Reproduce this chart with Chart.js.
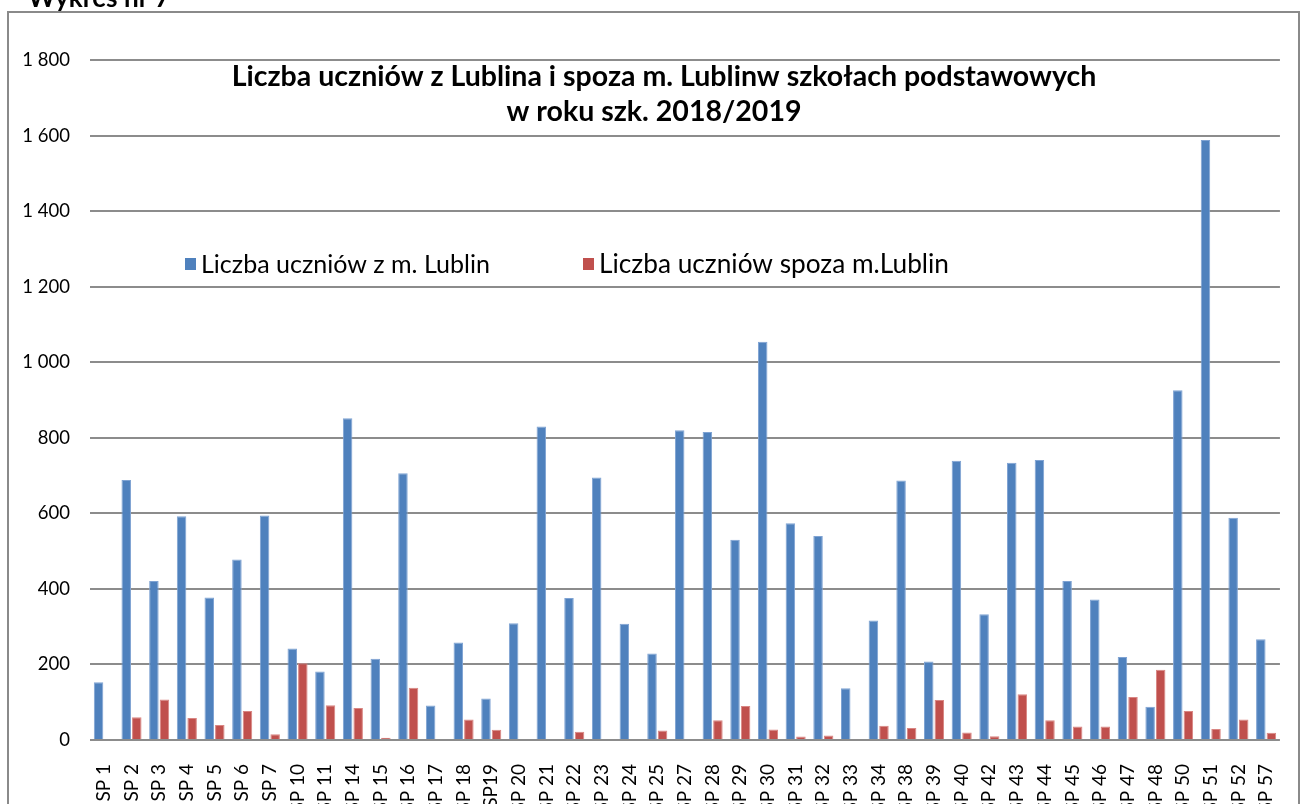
<!DOCTYPE html>
<html>
<head>
<meta charset="utf-8">
<script src="https://cdn.jsdelivr.net/npm/chart.js@4.4.1/dist/chart.umd.min.js"></script>
<style>
  html, body { margin: 0; padding: 0; background: #fff; }
  #wrap { width: 1305px; height: 804px; position: relative; }
</style>
</head>
<body>
<div id="wrap"><canvas id="chart"></canvas></div>
<script>
// Dane
const schools = ['SP 1', 'SP 2', 'SP 3', 'SP 4', 'SP 5', 'SP 6', 'SP 7', 'SP 10', 'SP 11', 'SP 14',
  'SP 15', 'SP 16', 'SP 17', 'SP 18', 'SP19', 'SP 20', 'SP 21', 'SP 22', 'SP 23', 'SP 24',
  'SP 25', 'SP 27', 'SP 28', 'SP 29', 'SP 30', 'SP 31', 'SP 32', 'SP 33', 'SP 34', 'SP 38',
  'SP 39', 'SP 40', 'SP 42', 'SP 43', 'SP 44', 'SP 45', 'SP 46', 'SP 47', 'SP 48', 'SP 50',
  'SP 51', 'SP 52', 'SP 57'];
const fromLublin = [153, 688, 421, 592, 377, 478, 594, 242, 181, 852,
  215, 706, 91, 258, 110, 309, 830, 376, 695, 308,
  229, 820, 815, 530, 1054, 574, 540, 137, 316, 687,
  208, 739, 333, 734, 741, 421, 372, 220, 88, 926,
  1588, 588, 267];
const outsideLublin = [0, 60, 107, 58, 40, 77, 15, 203, 92, 85,
  6, 138, 0, 54, 27, 0, 0, 22, 0, 0,
  25, 0, 52, 90, 28, 9, 12, 0, 38, 32,
  106, 20, 10, 121, 52, 36, 36, 114, 186, 77,
  29, 54, 19];
const yTicks = [0, 200, 400, 600, 800, 1000, 1200, 1400, 1600, 1800];

const seriesNames = ['Liczba uczniów z m. Lublin', 'Liczba uczniów spoza m.Lublin'];
const seriesColors = ['#4F81BD', '#C0504D'];
const titleLines = ['Liczba uczniów z Lublina i spoza m. Lublinw szkołach podstawowych', 'w roku szk. 2018/2019'];

const FONT = 'Lato, "Open Sans", sans-serif';

// dopasowanie rozmiaru czcionki do szerokości tekstu
function fitFont(ctx, text, weight, width) {
  ctx.font = weight + ' 20px ' + FONT;
  const size = 20 * width / ctx.measureText(text).width;
  ctx.font = weight + ' ' + size.toFixed(2) + 'px ' + FONT;
}

// Rysowanie ramki, tytułu i legendy
const decorPlugin = {
  id: 'decor',
  beforeDraw(chart) {
    const ctx = chart.ctx;
    ctx.save();
    ctx.fillStyle = '#fff';
    ctx.fillRect(0, 0, chart.width, chart.height);
    ctx.strokeStyle = '#8a8a8a';
    ctx.lineWidth = 2;
    ctx.strokeRect(8, 12, 1291, 810);
    ctx.fillStyle = '#000';
    ctx.textBaseline = 'alphabetic';
    fitFont(ctx, 'Wykres nr 7', 'bold', 142);
    ctx.fillText('Wykres nr 7', 28, 7);
    ctx.restore();
  },
  afterDraw(chart) {
    const ctx = chart.ctx;
    ctx.save();
    ctx.fillStyle = '#000';
    ctx.textAlign = 'center';
    ctx.textBaseline = 'middle';
    fitFont(ctx, titleLines[0], 'bold', 865);
    ctx.fillText(titleLines[0], 664, 77);
    ctx.fillText(titleLines[1], 654, 112);

    ctx.textAlign = 'left';
    const legX = [185, 583];
    const legW = [289, 350];
    chart.data.datasets.forEach((ds, i) => {
      ctx.fillStyle = ds.backgroundColor;
      ctx.fillRect(legX[i], 258, 11, 12);
      ctx.fillStyle = '#000';
      fitFont(ctx, ds.label, 'normal', legW[i]);
      ctx.fillText(ds.label, legX[i] + 16, 265);
    });
    ctx.restore();
  }
};

new Chart(document.getElementById('chart'), {
  type: 'bar',
  data: {
    labels: schools,
    datasets: [
      { label: seriesNames[0], data: fromLublin, backgroundColor: seriesColors[0], borderColor: '#7FA3D3', borderWidth: { left: 1, right: 1, top: 1 } },
      { label: seriesNames[1], data: outsideLublin, backgroundColor: seriesColors[1], borderColor: '#D98683', borderWidth: { left: 1, right: 1, top: 1 } }
    ]
  },
  options: {
    responsive: true,
    maintainAspectRatio: false,
    animation: false,
    layout: { padding: { top: 60, right: 9, left: 0, bottom: 0 } },
    datasets: { bar: { categoryPercentage: 0.763, barPercentage: 0.9 } },
    plugins: {
      legend: { display: false },
      title: { display: false },
      tooltip: { enabled: false }
    },
    scales: {
      x: {
        grid: { display: false },
        border: { display: false },
        ticks: {
          color: '#000',
          font: { family: FONT, size: 19 },
          minRotation: 90,
          maxRotation: 90,
          autoSkip: false,
          padding: 16
        },
        afterFit(scale) { scale.height = 64; }
      },
      y: {
        min: 0,
        max: 1800,
        afterBuildTicks(scale) { scale.ticks = yTicks.map(v => ({ value: v })); },
        grid: { color: '#8c8c8c', lineWidth: 2, drawTicks: false },
        border: { display: false },
        ticks: {
          color: '#000',
          font: { family: FONT, size: 18.5 },
          padding: 20,
          callback: v => String(v).replace(/\B(?=(\d{3})+(?!\d))/g, ' ')
        },
        afterFit(scale) { scale.width = 90; }
      }
    }
  },
  plugins: [decorPlugin]
});
</script>
</body>
</html>
